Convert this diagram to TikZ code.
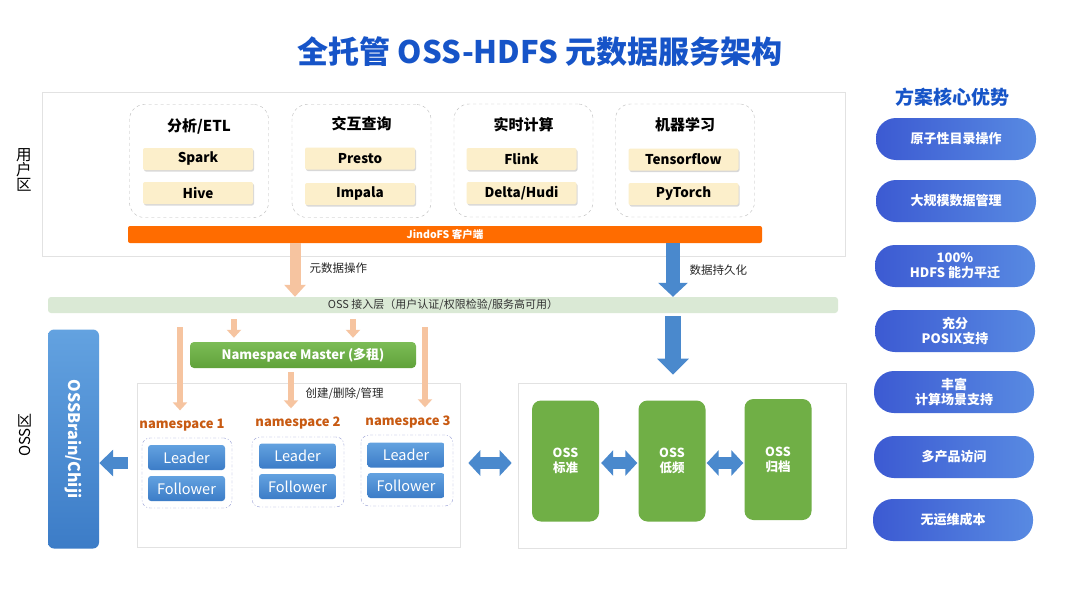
\documentclass[tikz,border=0pt]{standalone}
\usepackage{fontspec}
\setmainfont{Noto Sans CJK SC}
\usetikzlibrary{arrows.meta,shadows,calc}

\definecolor{bluTitolo}{RGB}{22,84,200}
\definecolor{bordoZona}{RGB}{226,226,226}
\definecolor{crema}{RGB}{252,239,203}
\definecolor{arancio}{RGB}{255,108,0}
\definecolor{verdeChiaro}{RGB}{218,233,213}
\definecolor{verdeAlto}{RGB}{124,188,86}
\definecolor{verdeBasso}{RGB}{96,162,58}
\definecolor{pesca}{RGB}{246,196,160}
\definecolor{bluFreccia}{RGB}{74,137,205}
\definecolor{bluAlto}{RGB}{99,162,224}
\definecolor{bluBasso}{RGB}{60,124,199}
\definecolor{ruggine}{RGB}{200,90,18}
\definecolor{lilla}{RGB}{150,158,212}
\definecolor{verdeOss}{RGB}{112,175,70}
\definecolor{pillSx}{RGB}{60,90,210}
\definecolor{pillDx}{RGB}{88,138,226}

\begin{document}
\begin{tikzpicture}[x=1pt, y=-1pt,
    zona/.style={draw=bordoZona, fill=white, line width=0.6pt},
    gruppo/.style={draw=gray!55, dashed, rounded corners=15pt, minimum width=139pt, minimum height=113pt},
    titgruppo/.style={font=\bfseries\fontsize{15}{15}\selectfont},
    app/.style={fill=crema, rounded corners=2pt, minimum width=110pt, minimum height=22pt, inner sep=0pt,
        font=\bfseries\fontsize{13.5}{13.5}\selectfont,
        drop shadow={shadow xshift=1pt, shadow yshift=-1.5pt, opacity=0.3}},
    etichetta/.style={anchor=west, font=\fontsize{11.5}{12}\selectfont, text=black!85},
    nslab/.style={text=ruggine, font=\bfseries\fontsize{13}{13}\selectfont},
    nsbox/.style={draw=lilla, dash pattern=on 3pt off 2pt on 1pt off 2pt, rounded corners=8pt},
    leader/.style={top color=bluAlto, bottom color=bluBasso, rounded corners=3pt, text=white,
        minimum width=77pt, minimum height=25pt, inner sep=0pt, font=\fontsize{14.5}{14.5}\selectfont},
    oss/.style={fill=verdeOss, rounded corners=9pt, minimum width=67pt, minimum height=121pt,
        text=white, align=center, font=\bfseries\fontsize{12.5}{15}\selectfont},
    pill/.style={left color=pillSx, right color=pillDx, rounded corners=20pt, minimum width=160pt,
        minimum height=42pt, inner sep=0pt, text=white, align=center, font=\bfseries\fontsize{13}{15}\selectfont},
    fmeta/.style={draw=pesca, line width=11pt, -{Triangle[length=12pt, width=21pt]}},
    fpesca/.style={draw=pesca, line width=6pt, -{Triangle[length=8pt, width=14pt]}},
    fdati/.style={draw=bluFreccia, line width=14pt, -{Triangle[length=14pt, width=29pt]}},
    fdatig/.style={draw=bluFreccia, line width=16pt, -{Triangle[length=16pt, width=31pt]}},
    fsx/.style={draw=bluFreccia, line width=12pt, -{Triangle[length=14pt, width=26pt]}},
    fdoppia/.style={draw=bluFreccia, line width=12pt,
        {Triangle[length=12pt, width=25pt]}-{Triangle[length=12pt, width=25pt]}}
  ]
  % Sfondo e dimensioni
  \fill[white] (0,0) rectangle (1080,608);
  \useasboundingbox (0,0) rectangle (1080,608);

  % Titolo
  \node[text=bluTitolo, font=\bfseries\fontsize{31}{34}\selectfont] (titolo) at (540,52) {全托管 OSS-HDFS 元数据服务架构};

  % Zona utente
  \node[zona, minimum width=803pt, minimum height=164pt] (utente) at (443.5,174.5) {};
  \node[align=center, font=\fontsize{15.5}{15}\selectfont] (lutente) at (24,170) {用\\户\\区};

  \node[gruppo] (g1) at (199,161) {};
  \node[gruppo] (g2) at (361.5,161) {};
  \node[gruppo] (g3) at (523.5,160.5) {};
  \node[gruppo] (g4) at (685,160.5) {};
  \node[titgruppo] (t1) at (199,126) {分析/ETL};
  \node[titgruppo] (t2) at (361.5,124) {交互查询};
  \node[titgruppo] (t3) at (523.5,125) {实时计算};
  \node[titgruppo] (t4) at (685,125) {机器学习};

  \node[app] (spark) at (198,159) {Spark};
  \node[app] (hive) at (198,193) {Hive};
  \node[app] (presto) at (360,158.5) {Presto};
  \node[app] (impala) at (360,194) {Impala};
  \node[app] (flink) at (521.5,159) {Flink};
  \node[app] (delta) at (521.5,193) {Delta/Hudi};
  \node[app] (tf) at (683.5,159.5) {Tensorflow};
  \node[app] (torch) at (683.5,194) {PyTorch};

  % Client JindoFS e strato di accesso
  \node[fill=arancio, rounded corners=2pt, minimum width=634pt, minimum height=17pt, inner sep=0pt,
    text=white, font=\bfseries\fontsize{10.5}{10.5}\selectfont] (jindo) at (445,234.5) {JindoFS 客户端};
  \node[fill=verdeChiaro, rounded corners=3pt, minimum width=790pt, minimum height=16pt, inner sep=0pt,
    text=black!80, font=\fontsize{11}{11}\selectfont] (strato) at (443,305) {OSS 接入层（用户认证/权限检验/服务高可用）};

  % Zona OSS
  \node[rotate=90, font=\fontsize{15}{15}\selectfont] (loss) at (25,435) {OSS区};
  \node[top color=bluAlto, bottom color=bluBasso, rounded corners=6pt, minimum width=51pt, minimum height=219pt] (brain) at (73.5,439) {};
  \node[rotate=-90, text=white, font=\bfseries\fontsize{16}{16}\selectfont] (lbrain) at (brain) {OSSBrain/Chiji};

  \node[top color=verdeAlto, bottom color=verdeBasso, rounded corners=4pt, minimum width=226pt, minimum height=26pt,
    inner sep=0pt, text=white, font=\bfseries\fontsize{13}{13}\selectfont] (master) at (303,355) {Namespace Master (多租)};

  \node[zona, minimum width=323pt, minimum height=164pt] (nsarea) at (298.5,465) {};
  \node[zona, minimum width=328pt, minimum height=165pt] (store) at (682,465.5) {};

  \node[nslab] (ns1lab) at (182,425) {namespace 1};
  \node[nslab] (ns2lab) at (298,423) {namespace 2};
  \node[nslab] (ns3lab) at (408,422) {namespace 3};
  \node[nsbox, minimum width=90pt, minimum height=70pt] (ns1) at (187,473) {};
  \node[nsbox, minimum width=92pt, minimum height=70pt] (ns2) at (298,472) {};
  \node[nsbox, minimum width=92pt, minimum height=71pt] (ns3) at (407,470.5) {};
  \node[leader] (lead1) at (186.5,457.5) {Leader};
  \node[leader] (foll1) at (186.5,488.5) {Follower};
  \node[leader] (lead2) at (297.5,456) {Leader};
  \node[leader] (foll2) at (297.5,486.5) {Follower};
  \node[leader] (lead3) at (406,455) {Leader};
  \node[leader] (foll3) at (406,485.5) {Follower};

  \node[oss] (oss1) at (565.5,461) {OSS\\标准};
  \node[oss] (oss2) at (672,461) {OSS\\低频};
  \node[oss] (oss3) at (778,459.5) {OSS\\归档};

  % Frecce
  \coordinate (xmeta) at (295,0);
  \coordinate (xdati) at (673,0);
  \coordinate (xa1) at (234,0);
  \coordinate (xa2) at (353,0);
  \coordinate (xl1) at (180,0);
  \coordinate (xl3) at (425,0);
  \coordinate (xm2) at (291,0);
  \coordinate (ymid) at (0,463);

  \draw[fmeta] (jindo.south -| xmeta) -- (strato.north -| xmeta);
  \node[etichetta] (lmeta) at (306,268) {元数据操作};
  \draw[fdati] (jindo.south -| xdati) -- (strato.north -| xdati);
  \node[etichetta] (ldati) at (686,270) {数据持久化};
  \draw[fdatig] ($(strato.south -| xdati)+(0,3)$) -- ($(store.north -| xdati)+(0,-8)$);

  \draw[fpesca] ($(strato.south -| xa1)+(0,6)$) -- ($(master.north -| xa1)+(0,-4)$);
  \draw[fpesca] ($(strato.south -| xa2)+(0,6)$) -- ($(master.north -| xa2)+(0,-4)$);
  \draw[fpesca] ($(strato.south -| xl1)+(0,14)$) -- ($(ns1lab.north -| xl1)+(0,-5)$);
  \draw[fpesca] ($(strato.south -| xl3)+(0,14)$) -- ($(ns3lab.north -| xl3)+(0,-5)$);
  \draw[fpesca] ($(master.south -| xm2)+(0,4)$) -- ($(ns2lab.north -| xm2)+(0,-5)$);
  \node[etichetta] (lcrea) at (302,394) {创建/删除/管理};

  \draw[fsx] ($(nsarea.west |- ymid)+(-9,0)$) -- (brain.east |- ymid);
  \draw[fdoppia] ($(nsarea.east |- ymid)+(8,0)$) -- ($(store.west |- ymid)+(-6,0)$);
  \draw[fdoppia] ($(oss1.east |- ymid)+(2,0)$) -- ($(oss2.west |- ymid)+(-1,0)$);
  \draw[fdoppia] ($(oss2.east |- ymid)+(1,0)$) -- ($(oss3.west |- ymid)+(-1,0)$);

  % Vantaggi
  \node[text=bluTitolo, font=\bfseries\fontsize{19}{19}\selectfont] (vantaggi) at (952,97) {方案核心优势};
  \node[pill] (v1) at (956,139) {原子性目录操作};
  \node[pill] (v2) at (956,201) {大规模数据管理};
  \node[pill] (v3) at (955,266) {100\%\\HDFS 能力平迁};
  \node[pill] (v4) at (955,331) {充分\\POSIX支持};
  \node[pill] (v5) at (954,392) {丰富\\计算场景支持};
  \node[pill] (v6) at (954,457) {多产品访问};
  \node[pill] (v7) at (953,520) {无运维成本};
\end{tikzpicture}
\end{document}
